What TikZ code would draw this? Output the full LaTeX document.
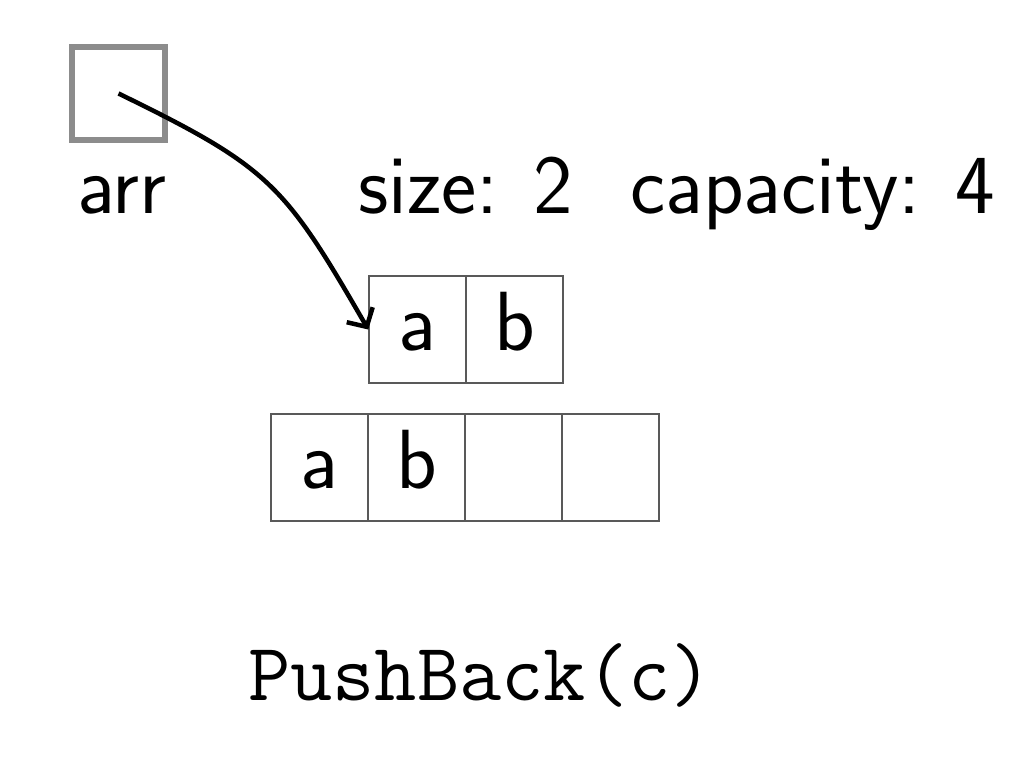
\documentclass[tikz,border=0pt]{standalone}
\usetikzlibrary{arrows.meta}
\begin{document}
\begin{tikzpicture}[x=1pt,y=-1pt,
  lbl/.style={inner sep=0pt,anchor=base west,font=\sffamily\fontsize{84}{90}\selectfont},
  cell/.style={draw=black!65,line width=1.5pt,minimum width=97pt,minimum height=107pt,inner sep=0pt,
    text height=42pt,text depth=0pt,font=\sffamily\fontsize{84}{90}\selectfont},
  ptr/.style={draw=black!45,line width=5.5pt,minimum width=93pt,minimum height=93pt,inner sep=0pt},
  link/.style={line width=4.5pt,-{Straight Barb[length=14pt,width=30pt,line width=4.5pt]}}]
\useasboundingbox (0,0) rectangle (1026,756);
\node[ptr] (arrbox) at (118.5,93.5) {};
\node[lbl] (arr) at (77,213) {arr};
\node[lbl] (size) at (358,213) {size: 2};
\node[lbl] (cap) at (630,213) {capacity: 4};
\node[cell] (t1) at (417.5,329.5) {a};
\node[cell] (t2) at (514.5,329.5) {b};
\node[cell] (b1) at (319.5,467.5) {a};
\node[cell] (b2) at (416.5,467.5) {b};
\node[cell] (b3) at (513.5,467.5) {};
\node[cell] (b4) at (610.5,467.5) {};
\node[inner sep=0pt,anchor=base west,font=\ttfamily\fontsize{82}{90}\selectfont] (push) at (248,700) {PushBack(c)};
\draw[link] (arrbox.center) to[out=-26,in=120,looseness=1.25] (t1.west);
\end{tikzpicture}
\end{document}
